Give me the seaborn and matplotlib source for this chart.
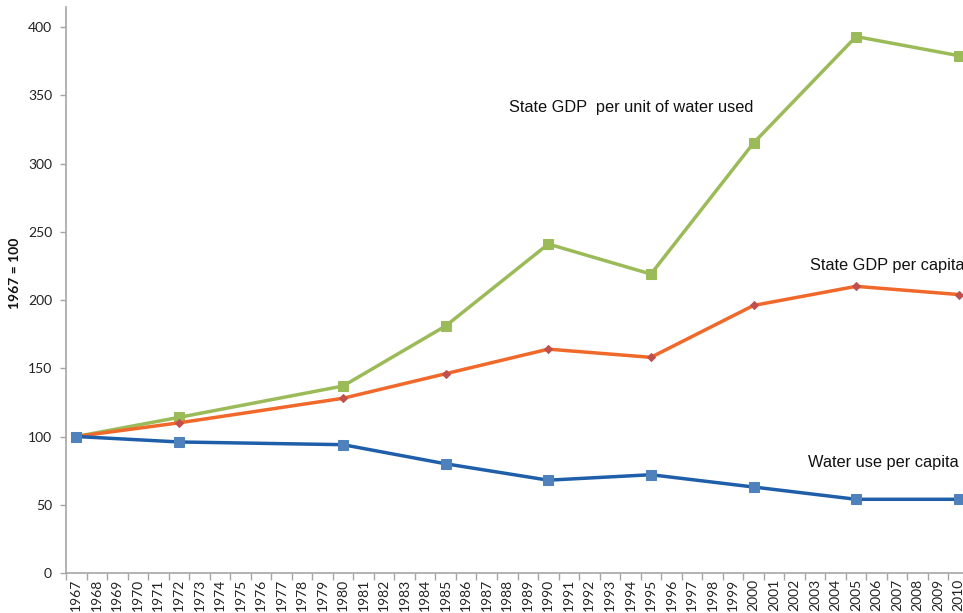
import matplotlib
matplotlib.use("Agg")
import matplotlib.pyplot as plt
from matplotlib.ticker import FixedLocator
import seaborn as sns
import pandas as pd

# ---- data ----
all_years = list(range(1967, 2011))
data_years = [1967, 1972, 1980, 1985, 1990, 1995, 2000, 2005, 2010]
gdp_per_water = [100, 114, 137, 181, 241, 219, 315, 393, 379]
gdp_per_capita = [100, 110, 128, 146, 164, 158, 196, 210, 204]
water_per_capita = [100, 96, 94, 80, 68, 72, 63, 54, 54]
y_ticks = [0, 50, 100, 150, 200, 250, 300, 350, 400]

sns.set_theme(style="white")
plt.rcParams['font.family'] = ['Lato', 'DejaVu Sans']

fig = plt.figure(figsize=(9.63, 6.13), dpi=100)
ax = fig.add_axes([66 / 963, 40 / 613, 903 / 963, 566 / 613])

pos = {y: i for i, y in enumerate(all_years)}
x_idx = [pos[y] for y in data_years]

df = pd.DataFrame({
    "x": x_idx * 3,
    "value": gdp_per_water + gdp_per_capita + water_per_capita,
    "series": (["water"] * len(x_idx)) + (["capita"] * len(x_idx)) + (["use"] * len(x_idx)),
})

styles = {
    "water": dict(color="#9BBB59", marker="s", mfc="#9BBB59", mec="#9BBB59", ms=6.5),
    "capita": dict(color="#F0682A", marker="D", mfc="#C0504D", mec="#C0504D", ms=4),
    "use": dict(color="#1F5FAA", marker="s", mfc="#4F81BD", mec="#4F81BD", ms=6.5),
}
for key, st in styles.items():
    sub = df[df["series"] == key]
    sns.lineplot(data=sub, x="x", y="value", ax=ax, color=st["color"], lw=2.5,
                 marker=st["marker"], markerfacecolor=st["mfc"],
                 markeredgecolor=st["mec"], markersize=st["ms"], legend=False,
                 clip_on=False)

ax.set_xlim(-0.5, len(all_years) - 0.5)
ax.set_ylim(0, 400 * 566 / 546)

ax.set_xticks(range(len(all_years)))
ax.set_xticklabels([str(y) for y in all_years], rotation=90, fontsize=10,
                   color="#222222")
ax.xaxis.set_minor_locator(FixedLocator([i - 0.5 for i in range(len(all_years) + 1)]))
ax.tick_params(axis="x", which="major", length=0, pad=4)
ax.tick_params(axis="x", which="minor", length=5, width=1, color="#A6A6A6",
               direction="out", bottom=True)

ax.set_yticks(y_ticks)
ax.set_yticklabels([str(v) for v in y_ticks], fontsize=10, color="#222222")
ax.tick_params(axis="y", which="major", length=4, width=1, color="#A6A6A6",
               direction="out", left=True, pad=6)

for s in ["top", "right"]:
    ax.spines[s].set_visible(False)
for s in ["left", "bottom"]:
    ax.spines[s].set_color("#A6A6A6")
    ax.spines[s].set_linewidth(1.2)

ax.set_xlabel("")
ax.set_ylabel("1967 = 100", fontsize=10, fontweight="bold", color="#111111",
              labelpad=10)
ax.yaxis.set_label_coords(-0.05, 0.53)

afont = dict(fontsize=11.8, color="#111111", family=["Liberation Sans", "DejaVu Sans"],
             va="center", ha="left")
ax.text(21.1, 341, "State GDP  per unit of water used", **afont)
ax.text(35.75, 225, "State GDP per capita", clip_on=False, **afont)
ax.text(35.65, 81, "Water use per capita", clip_on=False, **afont)

fig.savefig("out.png", dpi=100)
